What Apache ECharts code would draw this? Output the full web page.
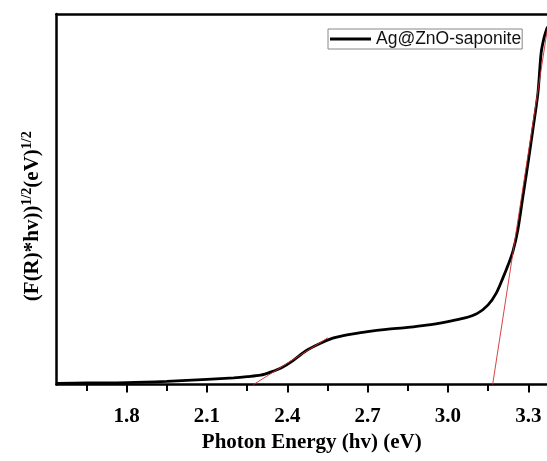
<!DOCTYPE html>
<html>
<head>
<meta charset="utf-8">
<script src="https://cdn.jsdelivr.net/npm/echarts@6/dist/echarts.min.js"></script>
<style>html,body{margin:0;padding:0;background:#fff;}#c{width:547px;height:461px;}</style>
</head>
<body>
<div id="c"></div>
<script>
// ---- data ----
var seriesName = 'Ag@ZnO-saponite';
var energy = [1.538, 1.65, 1.8, 1.95, 2.1, 2.2, 2.25, 2.3, 2.34, 2.38, 2.42, 2.47, 2.52, 2.57, 2.605, 2.64, 2.70, 2.77, 2.85, 2.92, 3.00, 3.06, 3.11, 3.15, 3.18, 3.205, 3.225, 3.243, 3.261, 3.28, 3.299, 3.317, 3.336, 3.348, 3.36, 3.372];
var absorb = [0.3, 0.4, 0.5, 0.86, 1.4, 1.8, 2.1, 2.5, 3.4, 4.6, 6.4, 9.1, 11.0, 12.5, 13.1, 13.6, 14.3, 14.9, 15.4, 16.0, 17.0, 17.9, 19.2, 21.5, 24.6, 28.7, 32.3, 36.0, 41.7, 50.7, 59.7, 68.7, 78.6, 89.4, 93.9, 96.6];
var fit1X = [2.274, 2.551];
var fit1Y = [0, 12.6];
var fit2X = [3.167, 3.372];
var fit2Y = [0, 96.2];
var majorTicks = [1.8, 2.1, 2.4, 2.7, 3.0, 3.3];
var minorTicks = [1.65, 1.95, 2.25, 2.55, 2.85, 3.15];
var xMin = 1.538, xMax = 3.370;
var yMin = 0, yMax = 100;
var xTitle = 'Photon Energy (hv) (eV)';
var yTitleMain1 = '(F(R)*hv))', yTitleSup = '1/2', yTitleMain2 = '(eV)';

function pairs(xs, ys) { return xs.map(function (x, i) { return [x, ys[i]]; }); }

var chart = echarts.init(document.getElementById('c'), null, { renderer: 'canvas' });
var serif = 'Liberation Serif, Times New Roman, serif';
chart.setOption({
  animation: false,
  backgroundColor: '#fff',
  grid: { left: 56.5, right: 0, top: 14, bottom: 76.5, containLabel: false },
  legend: {
    left: 328, top: 29, padding: [1, 1, 1, 2],
    itemWidth: 41, itemHeight: 3, icon: 'rect',
    borderColor: '#888', borderWidth: 1,
    textStyle: { fontFamily: 'Liberation Sans, Arial, sans-serif', fontSize: 17.5, color: '#111' },
    data: [seriesName]
  },
  xAxis: [
    {
      type: 'value', position: 'bottom', min: xMin, max: xMax,
      axisLine: { show: true, onZero: false, lineStyle: { color: '#000', width: 2.5 } },
      axisTick: { show: true, customValues: majorTicks, length: 8, lineStyle: { color: '#000', width: 2 } },
      axisLabel: { show: true, customValues: majorTicks, margin: 22, color: '#000', fontFamily: serif, fontWeight: 'bold', fontSize: 21,
        formatter: function (v) { return v.toFixed(1); } },
      splitLine: { show: false },
      name: xTitle, nameLocation: 'middle', nameGap: 46,
      nameTextStyle: { fontFamily: serif, fontWeight: 'bold', fontSize: 21, color: '#000', padding: [0, 0, 0, 20] }
    },
    {
      type: 'value', position: 'bottom', min: xMin, max: xMax,
      axisLine: { show: false, onZero: false },
      axisTick: { show: true, customValues: minorTicks, length: 6.5, lineStyle: { color: '#000', width: 2 } },
      axisLabel: { show: false }, splitLine: { show: false }
    },
    {
      type: 'value', position: 'top', min: xMin, max: xMax,
      axisLine: { show: true, onZero: false, lineStyle: { color: '#000', width: 2.5 } },
      axisTick: { show: false }, axisLabel: { show: false }, splitLine: { show: false }
    }
  ],
  yAxis: {
    type: 'value', min: yMin, max: yMax,
    axisLine: { show: true, onZero: false, lineStyle: { color: '#000', width: 2.5 } },
    axisTick: { show: false }, axisLabel: { show: false }, splitLine: { show: false },
    name: '{a|' + yTitleMain1 + '}{s|' + yTitleSup + '}{a|' + yTitleMain2 + '}{s|' + yTitleSup + '}',
    nameLocation: 'middle', nameGap: 13.5, nameRotate: 90,
    nameTextStyle: {
      padding: [0, 34, 0, 0],
      rich: {
        a: { fontFamily: serif, fontWeight: 'bold', fontSize: 21, color: '#000', verticalAlign: 'bottom' },
        s: { fontFamily: serif, fontWeight: 'bold', fontSize: 14, color: '#000', verticalAlign: 'top', padding: [0, 0, 9, 0] }
      }
    }
  },
  series: [
    {
      name: seriesName, type: 'line', xAxisIndex: 0, data: pairs(energy, absorb),
      showSymbol: false, symbol: 'none', smooth: 0.3,
      lineStyle: { color: '#000', width: 2.8 }, itemStyle: { color: '#000' }, z: 2
    },
    {
      name: 'fit1', type: 'line', xAxisIndex: 0, data: pairs(fit1X, fit1Y),
      showSymbol: false, symbol: 'none', lineStyle: { color: '#d03030', width: 0.9 }, z: 3
    },
    {
      name: 'fit2', type: 'line', xAxisIndex: 0, data: pairs(fit2X, fit2Y),
      showSymbol: false, symbol: 'none', lineStyle: { color: '#d03030', width: 0.9 }, z: 3
    }
  ]
});
</script>
</body>
</html>
